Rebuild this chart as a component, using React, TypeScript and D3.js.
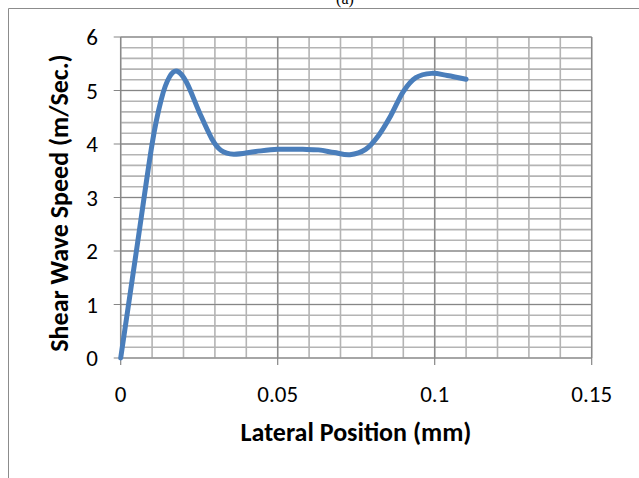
import React from 'react';
import * as d3 from 'd3';

// lateral position (mm) and shear wave speed (m/Sec.)
const positions = [0, 0.005, 0.01, 0.013, 0.0155, 0.018, 0.021, 0.025, 0.029, 0.032, 0.036, 0.043, 0.05, 0.058, 0.063, 0.068, 0.073, 0.078, 0.082, 0.086, 0.09, 0.094, 0.099, 0.104, 0.11];
const speeds = [0, 2.0, 4.0, 4.85, 5.25, 5.36, 5.15, 4.6, 4.1, 3.88, 3.81, 3.86, 3.9, 3.9, 3.89, 3.84, 3.8, 3.9, 4.15, 4.53, 4.98, 5.24, 5.32, 5.28, 5.21];

const xTicks = [0, 0.05, 0.1, 0.15];
const yTicks = [0, 1, 2, 3, 4, 5, 6];

const W = 639;
const H = 478;
const font = 'Carlito, Lato, "DejaVu Sans", sans-serif';

export default function App() {
  const x = d3.scaleLinear().domain([0, 0.15]).range([120.7, 591.7]);
  const y = d3.scaleLinear().domain([0, 6]).range([358, 37]);

  // minor grid: every 0.01 on x, every 0.2 on y
  const xMinor = d3.range(0, 0.1501, 0.01);
  const yMinor = d3.range(0, 6.001, 0.2);

  const line = d3
    .line<number>()
    .x((d, i) => x(positions[i]))
    .y((d) => y(d))
    .curve(d3.curveCardinal.tension(0));

  return (
    <div style={{ position: 'absolute', left: 0, top: 0 }}>
      <svg width={W} height={H} style={{ display: 'block', background: '#fff' }}>
        {/* caption cut off at the top */}
        <text x={345} y={4} textAnchor="middle" fontFamily="'Liberation Serif', serif" fontSize={16} fill="#000">
          (a)
        </text>
        {/* chart frame */}
        <line x1={8.5} y1={8.5} x2={W} y2={8.5} stroke="#8c8c8c" strokeWidth={1} />
        <line x1={8.5} y1={8.5} x2={8.5} y2={H} stroke="#8c8c8c" strokeWidth={1} />

        {/* minor grid */}
        <g stroke="#b4b4b4" strokeWidth={1.6}>
          {xMinor.map((v, i) => (
            <line key={'xm' + i} x1={x(v)} x2={x(v)} y1={y(6)} y2={y(0)} />
          ))}
          {yMinor.map((v, i) => (
            <line key={'ym' + i} x1={x(0)} x2={x(0.15)} y1={y(v)} y2={y(v)} />
          ))}
        </g>
        {/* major grid */}
        <g stroke="#868686" strokeWidth={1.2}>
          {xTicks.map((v) => (
            <line key={'xg' + v} x1={x(v)} x2={x(v)} y1={y(6)} y2={y(0) + 7} />
          ))}
          {yTicks.map((v) => (
            <line key={'yg' + v} x1={x(0) - 7} x2={x(0.15)} y1={y(v)} y2={y(v)} />
          ))}
        </g>

        {/* tick labels */}
        <g fontFamily={font} fontSize={23} fill="#000">
          {yTicks.map((v) => (
            <text key={'yl' + v} x={98} y={y(v)} dy="0.36em" textAnchor="end">
              {v}
            </text>
          ))}
          {xTicks.map((v) => (
            <text key={'xl' + v} x={x(v)} y={402} textAnchor="middle">
              {v}
            </text>
          ))}
        </g>

        {/* axis titles */}
        <text x={356} y={441} textAnchor="middle" fontFamily={font} fontSize={26} fontWeight="bold" fill="#000">
          Lateral Position (mm)
        </text>
        <text
          transform="translate(68, 203) rotate(-90)"
          textAnchor="middle"
          fontFamily={font}
          fontSize={26}
          fontWeight="bold"
          fill="#000"
        >
          Shear Wave Speed (m/Sec.)
        </text>

        {/* series */}
        <path d={line(speeds) || ''} fill="none" stroke="#4a7ebb" strokeWidth={5} strokeLinecap="round" strokeLinejoin="round" />
      </svg>
    </div>
  );
}
